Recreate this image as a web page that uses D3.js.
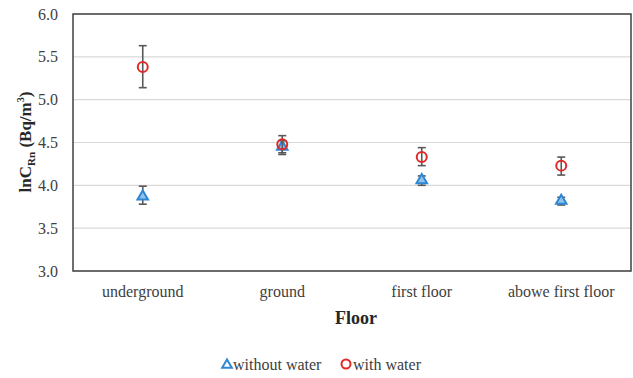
<!DOCTYPE html>
<html>
<head>
<meta charset="utf-8">
<style>
    body { margin: 0; background: #fff; }
    svg text { font-family: 'Liberation Serif', 'DejaVu Serif', serif !important; }
</style>
</head>
<body>
<svg width="633" height="378"></svg>
<script src="https://d3js.org/d3.v7.min.js"></script>
<script>
    // values
    let floors = ["underground", "ground", "first floor", "abowe first floor"];
    let withoutWater = [3.87, 4.45, 4.06, 3.82];
    let withoutLow = [3.78, 4.36, 4.00, 3.77];
    let withoutHigh = [3.99, 4.52, 4.11, 3.86];
    let withWater = [5.38, 4.48, 4.33, 4.23];
    let withLow = [5.14, 4.38, 4.23, 4.12];
    let withHigh = [5.63, 4.58, 4.44, 4.33];
    let yTicks = [3.0, 3.5, 4.0, 4.5, 5.0, 5.5, 6.0];

    let svg = d3.select("svg");
    let margin = {top: 14, right: 2, bottom: 107, left: 73};
    let width = 633 - margin.left - margin.right;
    let height = 378 - margin.top - margin.bottom;

    let x = d3.scaleBand().domain(floors).range([margin.left, margin.left + width]);
    let y = d3.scaleLinear().domain([3, 6]).range([margin.top + height, margin.top]);

    // gridlines
    svg.append("g")
        .selectAll("line")
        .data(yTicks)
        .join("line")
        .attr("x1", margin.left).attr("x2", margin.left + width)
        .attr("y1", d => y(d)).attr("y2", d => y(d))
        .attr("stroke", "#d9d9d9").attr("stroke-width", 1.2);

    // frame
    svg.append("rect")
        .attr("x", margin.left).attr("y", margin.top)
        .attr("width", width).attr("height", height)
        .attr("fill", "none").attr("stroke", "#404040").attr("stroke-width", 1.5);

    // y axis
    let yAxis = svg.append("g")
        .attr("transform", `translate(${margin.left},0)`)
        .call(d3.axisLeft(y).tickValues(yTicks).tickFormat(d3.format(".1f")).tickSize(0).tickPadding(15));
    yAxis.select(".domain").remove();
    yAxis.selectAll("text").attr("font-size", 16).attr("fill", "#404040");

    // x axis
    let xAxis = svg.append("g")
        .attr("transform", `translate(0,${margin.top + height})`)
        .call(d3.axisBottom(x).tickSize(0).tickPadding(15));
    xAxis.select(".domain").remove();
    xAxis.selectAll("text").attr("font-size", 16).attr("fill", "#404040");

    // axis titles
    svg.append("text")
        .attr("x", margin.left + width / 2 + 4).attr("y", 324)
        .attr("text-anchor", "middle")
        .attr("font-size", 18).attr("font-weight", "bold").attr("fill", "#262626")
        .text("Floor");

    let yt = svg.append("text")
        .attr("transform", `translate(31,142) rotate(-90)`)
        .attr("text-anchor", "middle")
        .attr("font-size", 17).attr("font-weight", "bold").attr("fill", "#262626");
    yt.append("tspan").text("lnC");
    yt.append("tspan").attr("font-size", 11).attr("dy", 4).text("Rn");
    yt.append("tspan").attr("dy", -4).text(" (Bq/m");
    yt.append("tspan").attr("font-size", 10).attr("dy", -7).text("3");
    yt.append("tspan").attr("dy", 7).text(")");

    let cx = d => x(d) + x.bandwidth() / 2;
    let tri = d3.symbol().type(d3.symbolTriangle).size(48);

    // error bars
    function errBars(lo, hi) {
        let g = svg.append("g").attr("stroke", "#595959").attr("stroke-width", 1.6);
        floors.forEach((f, i) => {
            g.append("line").attr("x1", cx(f)).attr("x2", cx(f)).attr("y1", y(lo[i])).attr("y2", y(hi[i]));
            g.append("line").attr("x1", cx(f) - 4).attr("x2", cx(f) + 4).attr("y1", y(lo[i])).attr("y2", y(lo[i]));
            g.append("line").attr("x1", cx(f) - 4).attr("x2", cx(f) + 4).attr("y1", y(hi[i])).attr("y2", y(hi[i]));
        });
    }
    errBars(withoutLow, withoutHigh);

    svg.append("g")
        .selectAll("path")
        .data(floors)
        .join("path")
        .attr("d", tri)
        .attr("transform", (d, i) => `translate(${cx(d)},${y(withoutWater[i])})`)
        .attr("fill", "#8fc3ec").attr("stroke", "#2e86d4").attr("stroke-width", 2);

    errBars(withLow, withHigh);

    svg.append("g")
        .selectAll("circle")
        .data(floors)
        .join("circle")
        .attr("cx", cx)
        .attr("cy", (d, i) => y(withWater[i]))
        .attr("r", 5)
        .attr("fill", "none").attr("stroke", "#e02a2a").attr("stroke-width", 2);

    // legend
    let lg = svg.append("g").attr("font-size", 16).attr("fill", "#404040");
    lg.append("path").attr("d", d3.symbol().type(d3.symbolTriangle).size(40))
        .attr("transform", "translate(227,365)")
        .attr("fill", "none").attr("stroke", "#2e86d4").attr("stroke-width", 2);
    lg.append("text").attr("x", 233).attr("y", 370).text("without water");
    lg.append("circle").attr("cx", 346).attr("cy", 364).attr("r", 4.5)
        .attr("fill", "none").attr("stroke", "#e02a2a").attr("stroke-width", 2);
    lg.append("text").attr("x", 353).attr("y", 370).text("with water");
</script>
</body>
</html>
